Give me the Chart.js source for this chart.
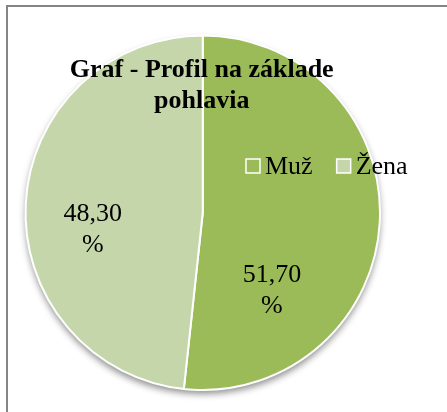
<!DOCTYPE html>
<html>
<head>
<meta charset="utf-8">
<script src="https://cdn.jsdelivr.net/npm/chart.js@4"></script>
<style>
  html, body { margin: 0; padding: 0; background: #fff; }
  #wrap { width: 447px; height: 412px; }
</style>
</head>
<body>
<div id="wrap"><canvas id="myChart" width="447" height="412"></canvas></div>
<script>
// chart data
var categories = ['Muž', 'Žena'];
var values = [51.70, 48.30];
var colors = ['#9BBB59', '#C5D6AB'];
var titleLines = ['Graf - Profil na základe', 'pohlavia'];

function fmt(v) {
    return v.toFixed(2).replace('.', ',');
}

// border, shadow, title, legend and labels drawn on top of the pie
var decor = {
    id: 'decor',
    beforeDatasetsDraw: function(chart) {
        var ctx = chart.ctx;
        var arc = chart.getDatasetMeta(0).data[0];
        ctx.save();
        ctx.shadowColor = 'rgba(0,0,0,0.45)';
        ctx.shadowBlur = 7;
        ctx.shadowOffsetY = 4;
        ctx.fillStyle = '#fff';
        ctx.beginPath();
        ctx.arc(arc.x, arc.y, arc.outerRadius, 0, Math.PI * 2);
        ctx.fill();
        ctx.restore();
    },
    afterDraw: function(chart) {
        var ctx = chart.ctx;
        var meta = chart.getDatasetMeta(0);
        var cx = meta.data[0].x, cy = meta.data[0].y, r = meta.data[0].outerRadius;
        ctx.save();

        // frame
        ctx.strokeStyle = '#858585';
        ctx.lineWidth = 2;
        ctx.beginPath();
        ctx.moveTo(7, 412);
        ctx.lineTo(7, 6);
        ctx.lineTo(447, 6);
        ctx.stroke();

        // title
        ctx.fillStyle = '#000';
        ctx.textAlign = 'center';
        ctx.textBaseline = 'middle';
        ctx.font = 'bold 26px "Liberation Serif", "Times New Roman", serif';
        titleLines.forEach(function(t, i) {
            ctx.fillText(t, cx - 1, 70 + i * 31);
        });

        // legend
        ctx.font = '26px "Liberation Serif", "Times New Roman", serif';
        ctx.textAlign = 'left';
        var lx = 246, ly = 166;
        categories.forEach(function(c, i) {
            ctx.fillStyle = colors[i];
            ctx.fillRect(lx, ly - 7, 14, 14);
            ctx.strokeStyle = '#fff';
            ctx.lineWidth = 1.5;
            ctx.strokeRect(lx, ly - 7, 14, 14);
            ctx.fillStyle = '#000';
            ctx.fillText(c, lx + 19, ly + 1);
            lx += 19 + ctx.measureText(c).width + 24;
        });

        // data labels (best-fit style offsets from the pie centre)
        var offs = [[0.39, 0.345], [-0.62, 0.0]];
        ctx.textAlign = 'center';
        meta.data.forEach(function(a, i) {
            var x = cx + r * offs[i][0];
            var y = cy + r * offs[i][1];
            ctx.fillText(fmt(values[i]), x, y + 1);
            ctx.fillText('%', x, y + 32);
        });
        ctx.restore();
    }
};

document.addEventListener('DOMContentLoaded', function() {
    var ctx = document.getElementById('myChart').getContext('2d');
    new Chart(ctx, {
        type: 'pie',
        data: {
            labels: categories,
            datasets: [{
                data: values,
                backgroundColor: colors,
                borderColor: '#fff',
                borderWidth: 2
            }]
        },
        options: {
            responsive: false,
            animation: false,
            layout: { padding: { left: 24.5, right: 66, top: 34.5, bottom: 21 } },
            plugins: {
                legend: { display: false },
                title: { display: false },
                tooltip: { enabled: false }
            }
        },
        plugins: [decor]
    });
});
</script>
</body>
</html>
